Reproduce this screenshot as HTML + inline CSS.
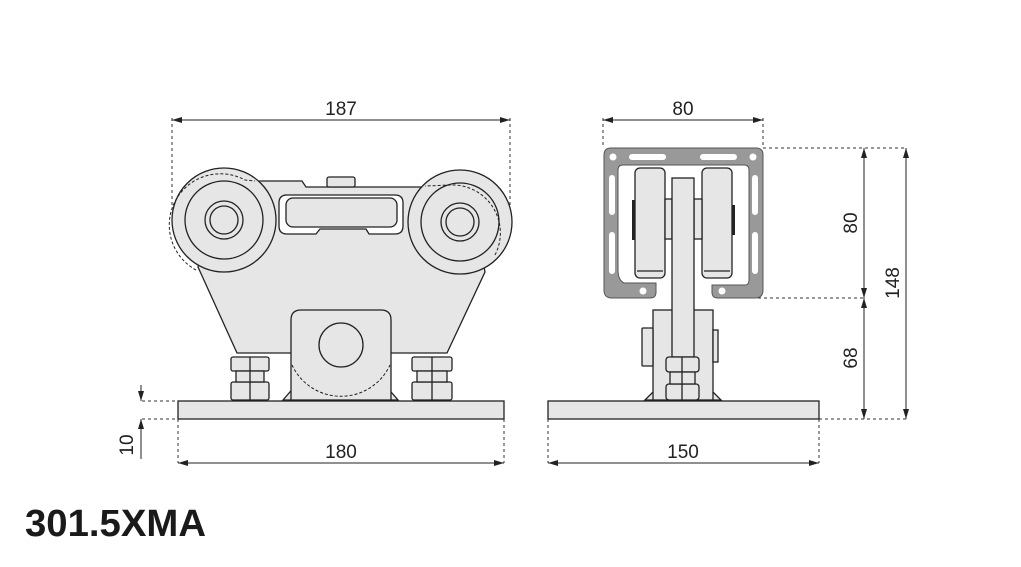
<!DOCTYPE html>
<html><head><meta charset="utf-8">
<style>
html,body{margin:0;padding:0;background:#fff;}
svg{display:block;}
text{font-family:"Liberation Sans",sans-serif;}
</style></head>
<body>
<svg width="1021" height="567" viewBox="0 0 1021 567" xmlns="http://www.w3.org/2000/svg">
<defs>
<marker id="a" viewBox="0 0 10 6" refX="10" refY="3" markerWidth="10" markerHeight="6" orient="auto-start-reverse" markerUnits="userSpaceOnUse"><path d="M0,0 L10,3 L0,6 Z" fill="#222"/></marker>
</defs>
<g fill="none" stroke="#333" stroke-width="1" stroke-dasharray="3,3">
<line x1="172" y1="118" x2="172" y2="205"/>
<line x1="510" y1="118" x2="510" y2="205"/>
<line x1="178" y1="419" x2="178" y2="463"/>
<line x1="504" y1="419" x2="504" y2="463"/>
<line x1="142" y1="401" x2="178" y2="401"/>
<line x1="142" y1="419" x2="178" y2="419"/>
<line x1="603" y1="118" x2="603" y2="148"/>
<line x1="763" y1="118" x2="763" y2="148"/>
<line x1="548" y1="419" x2="548" y2="463"/>
<line x1="819" y1="419" x2="819" y2="463"/>
<line x1="763" y1="148" x2="906" y2="148"/>
<line x1="758" y1="298" x2="864" y2="298"/>
<line x1="819" y1="419" x2="906" y2="419"/>
</g>
<g stroke="#222" stroke-width="1" fill="none">
<line x1="172" y1="120" x2="510" y2="120" marker-start="url(#a)" marker-end="url(#a)"/>
<line x1="178" y1="463" x2="504" y2="463" marker-start="url(#a)" marker-end="url(#a)"/>
<line x1="603" y1="120" x2="763" y2="120" marker-start="url(#a)" marker-end="url(#a)"/>
<line x1="548" y1="463" x2="819" y2="463" marker-start="url(#a)" marker-end="url(#a)"/>
<line x1="141" y1="385" x2="141" y2="401" marker-end="url(#a)"/>
<line x1="141" y1="459" x2="141" y2="419" marker-end="url(#a)"/>
<line x1="864" y1="148" x2="864" y2="298" marker-start="url(#a)" marker-end="url(#a)"/>
<line x1="864" y1="298" x2="864" y2="419" marker-start="url(#a)" marker-end="url(#a)"/>
<line x1="906" y1="148" x2="906" y2="419" marker-start="url(#a)" marker-end="url(#a)"/>
</g>
<g font-size="19" fill="#222" text-anchor="middle">
<text x="341" y="115">187</text>
<text x="341" y="458">180</text>
<text x="683" y="115">80</text>
<text x="683" y="458">150</text>
<text transform="translate(133,445) rotate(-90)">10</text>
<text transform="translate(857,223) rotate(-90)">80</text>
<text transform="translate(857,358) rotate(-90)">68</text>
<text transform="translate(899,283) rotate(-90)">148</text>
</g>
<text x="25" y="536" font-size="38" font-weight="bold" fill="#1a1a1a" textLength="181" lengthAdjust="spacingAndGlyphs">301.5XMA</text>

<!-- LEFT VIEW -->
<g stroke="#222" stroke-width="1.3" fill="#e6e6e6">
<rect x="178" y="401" width="326" height="18"/>
<path d="M283,400 L296,385 L385,385 L398,400 Z"/>
<path d="M198,267 L237,353 L447,353 L485,272 L470,190 L420,187 L306,187 L302,181 L260,181 L215,190 Z"/>
<circle cx="224" cy="220" r="52"/>
<circle cx="224" cy="220" r="39"/>
<circle cx="224" cy="220" r="19"/>
<circle cx="224" cy="220" r="14"/>
<circle cx="460" cy="222" r="52"/>
<circle cx="460" cy="222" r="39"/>
<circle cx="460" cy="222" r="19"/>
<circle cx="460" cy="222" r="14"/>
<path d="M285,195 L395,195 Q403,195 403,203 L403,226 Q403,234 395,234 L369,234 L366,229 L320,229 L316,234 L287,234 Q279,234 279,226 L279,203 Q279,195 287,195 Z" fill="#fff"/>
<rect x="286" y="198" width="111" height="29" rx="7"/>
<rect x="327" y="177" width="28" height="10" rx="2"/>
<path d="M291,400 L291,320 Q291,310 301,310 L381,310 Q391,310 391,320 L391,400 Z"/>
<circle cx="341" cy="345" r="22"/>
<g>
<rect x="231" y="357" width="38" height="14" rx="2"/>
<rect x="231" y="382" width="38" height="18" rx="2"/>
<rect x="236" y="371" width="28" height="11"/>
<line x1="250" y1="357" x2="250" y2="400"/>
<rect x="412" y="357" width="40" height="14" rx="2"/>
<rect x="412" y="382" width="40" height="18" rx="2"/>
<rect x="417" y="371" width="30" height="11"/>
<line x1="432" y1="357" x2="432" y2="400"/>
</g>
</g>
<g fill="none" stroke="#222" stroke-width="1" stroke-dasharray="3,2">
<path d="M292,365 A54,54 0 0 0 390,365"/>
<path d="M196,270 A48,48 0 0 1 245,180 L255,181"/>
<path d="M495,255 A48,48 0 0 0 450,185 L425,186"/>
</g>

<!-- RIGHT VIEW -->
<g stroke="#222" stroke-width="1.3" fill="#e6e6e6">
<rect x="548" y="401" width="271" height="18"/>
<path d="M645,400 L655,390 L711,390 L721,400 Z"/>
<rect x="653" y="310" width="60" height="90"/>
<rect x="642" y="328" width="11" height="38" rx="1"/>
<rect x="713" y="330" width="5" height="32"/>
</g>
<path d="M611,148 L756,148 Q763,148 763,155 L763,290 Q763,298 755,298 L718,298 Q712,298 712,292 L712,285 L745,285 Q749,285 749,280 L749,170 Q749,165 744,165 L623,165 Q618,165 618,170 L618,270 Q618,280 624,283 L656,283 L656,292 Q656,298 650,298 L612,298 Q604,298 604,290 L604,155 Q604,148 611,148 Z" fill="#999" stroke="#555" stroke-width="1"/>
<g fill="#fff">
<circle cx="613" cy="157" r="3.5"/><circle cx="753" cy="157" r="3.5"/>
<circle cx="643" cy="291" r="3.5"/><circle cx="722" cy="291" r="3.5"/>
<rect x="629" y="154" width="37" height="6" rx="3"/><rect x="700" y="154" width="37" height="6" rx="3"/>
<rect x="609" y="175" width="6" height="40" rx="3"/><rect x="609" y="232" width="6" height="42" rx="3"/>
<rect x="752" y="175" width="6" height="40" rx="3"/><rect x="752" y="232" width="6" height="42" rx="3"/>
</g>
<g stroke="#222" stroke-width="1.3" fill="#e6e6e6">
<rect x="635" y="168" width="30" height="110" rx="5"/>
<rect x="702" y="168" width="30" height="110" rx="5"/>
<line x1="637" y1="271" x2="663" y2="271"/><line x1="704" y1="271" x2="730" y2="271"/>
<rect x="665" y="199" width="7" height="40"/><rect x="694" y="199" width="8" height="40"/>
<rect x="672" y="178" width="22" height="179"/>
<rect x="666" y="357" width="33" height="15" rx="3"/>
<rect x="666" y="384" width="33" height="16" rx="3"/>
<rect x="670" y="372" width="25" height="12"/>
<line x1="682" y1="357" x2="682" y2="400"/>
</g>
<rect x="632" y="200" width="3" height="40" fill="#222"/>
<rect x="732" y="205" width="3" height="30" fill="#222"/>
</svg>
</body></html>
